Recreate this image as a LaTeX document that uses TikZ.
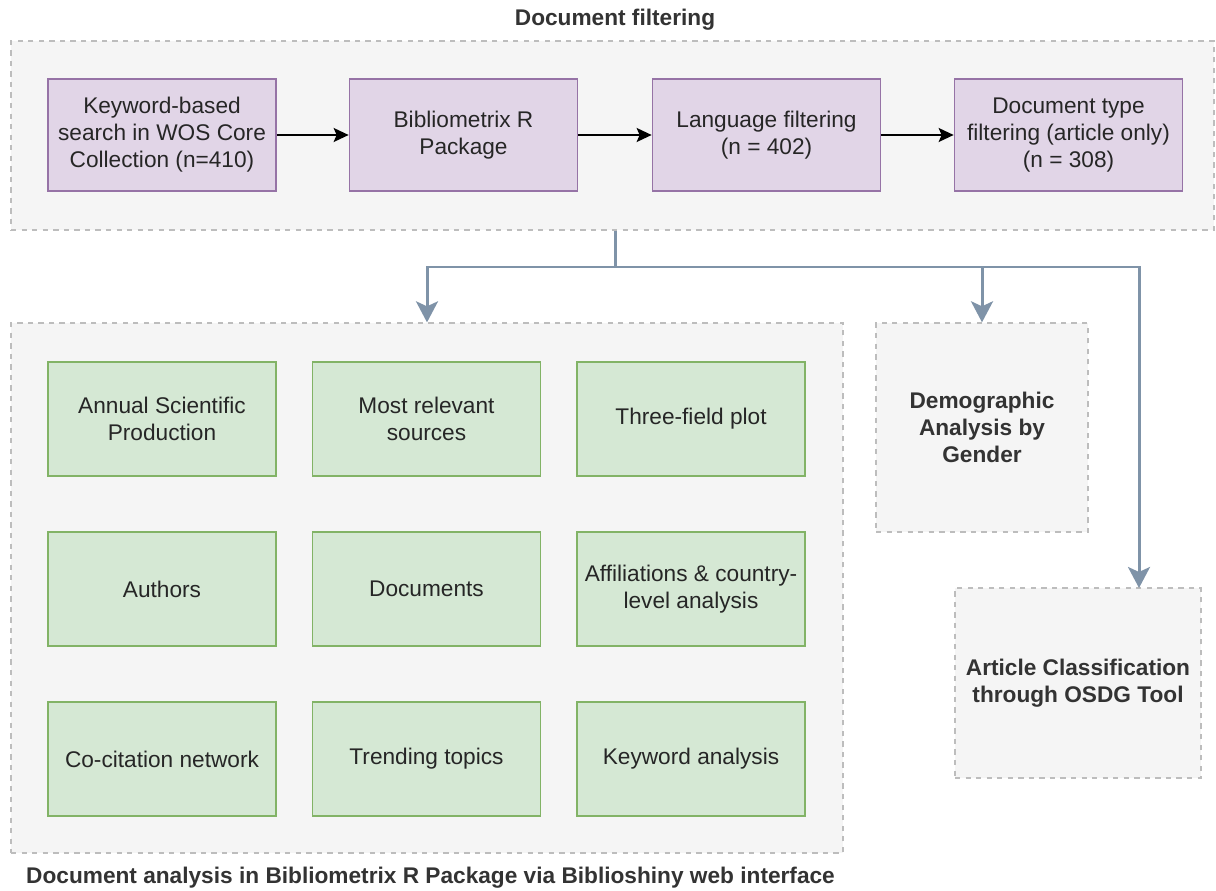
\documentclass[tikz,border=0pt]{standalone}
\usepackage{fontspec}
\setmainfont{Liberation Sans}
\usetikzlibrary{arrows.meta}
\definecolor{stepfill}{HTML}{E1D5E7}
\definecolor{stepline}{HTML}{9673A6}
\definecolor{toolfill}{HTML}{D5E8D4}
\definecolor{toolline}{HTML}{82B366}
\definecolor{groupfill}{HTML}{F5F5F5}
\definecolor{groupline}{HTML}{BDBDBD}
\definecolor{linkcol}{HTML}{7F93A8}
\definecolor{labelcol}{HTML}{333333}
\begin{document}
\begin{tikzpicture}[x=0.02cm,y=-0.02cm,
    every node/.style={font=\fontsize{12.9}{15.3}\selectfont,align=center,text=black!85},
    group/.style={draw=groupline,fill=groupfill,dashed,line width=0.8pt,inner sep=0pt},
    stepbox/.style={draw=stepline,fill=stepfill,line width=1pt,minimum width=4.56cm,minimum height=2.24cm},
    toolbox/.style={draw=toolline,fill=toolfill,line width=1pt,minimum width=4.56cm,minimum height=2.28cm},
    title/.style={font=\fontsize{12.9}{15.3}\selectfont\bfseries,text=labelcol},
    seq/.style={-{Stealth[length=0.3cm,width=0.28cm,inset=0.06cm]},line width=1.1pt,black},
    link/.style={-{Stealth[length=0.42cm,width=0.44cm,inset=0.1cm]},line width=1.7pt,linkcol}]
  \useasboundingbox (0,0) rectangle (1216,891);
  % containers
  \node[group,minimum width=24.06cm,minimum height=3.78cm] (filt) at (612.5,135.5) {};
  \node[title] (filtlab) at (615,20) {Document filtering};
  \node[group,minimum width=16.64cm,minimum height=10.6cm] (ana) at (427,588) {};
  \node[title,anchor=west] (analab) at (20,878) {Document analysis in Bibliometrix R Package via Biblioshiny web interface};
  \node[group,title,minimum width=4.24cm,minimum height=4.18cm] (dem) at (982,427.5) {Demographic\\Analysis by\\Gender};
  \node[group,title,minimum width=4.92cm,minimum height=3.8cm] (art) at (1078,683) {Article Classification\\through OSDG Tool};
  % filtering steps
  \node[stepbox] (search) at (162,135) {Keyword-based\\search in WOS Core\\Collection (n=410)};
  \node[stepbox] (biblio) at (463.5,135) {Bibliometrix R\\Package};
  \node[stepbox] (lang) at (766.5,135) {Language filtering\\(n = 402)};
  \node[stepbox] (dtype) at (1068.5,135) {Document type\\filtering (article only)\\(n = 308)};
  \draw[seq] (search) -- (biblio);
  \draw[seq] (biblio) -- (lang);
  \draw[seq] (lang) -- (dtype);
  % analyses
  \node[toolbox] (annual) at (162,419) {Annual Scientific\\Production};
  \node[toolbox] (sources) at (426.5,419) {Most relevant\\sources};
  \node[toolbox] (three) at (691,419) {Three-field plot};
  \node[toolbox] (authors) at (162,589) {Authors};
  \node[toolbox] (docs) at (426.5,589) {Documents};
  \node[toolbox] (affil) at (691,589) {Affiliations \& country-\\level analysis};
  \node[toolbox] (cocit) at (162,759) {Co-citation network};
  \node[toolbox] (trend) at (426.5,759) {Trending topics};
  \node[toolbox] (kwd) at (691,759) {Keyword analysis};
  % branches
  \coordinate (split) at (615,267);
  \coordinate (osdg) at (1139,588);
  \draw[link,-] (filt.south -| split) -- (split);
  \draw[link] (split) -| (ana.north);
  \draw[link] (split) -| (dem.north);
  \draw[link] (split) -| (osdg);
\end{tikzpicture}
\end{document}
